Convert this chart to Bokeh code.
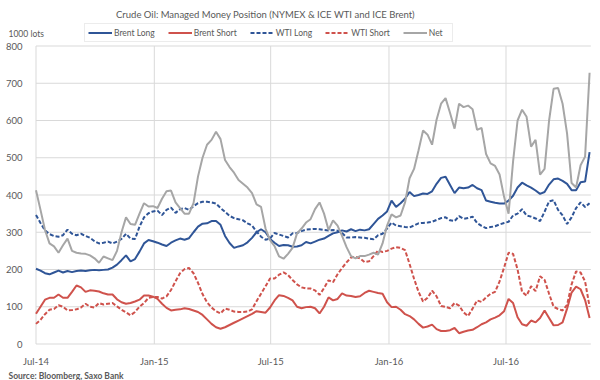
import pandas as pd
from bokeh.plotting import figure
from bokeh.models import Range1d, FixedTicker, DatetimeTickFormatter, Legend, LegendItem, Label
from bokeh.embed import file_html
from bokeh.resources import INLINE

# weekly reporting dates (Tuesdays)
dates = pd.date_range("2014-07-01", periods=124, freq="7D")

brent_long = [202, 197, 190, 187, 192, 197, 192, 196, 193, 196,
              197, 196, 198, 199, 198, 199, 200, 205, 213, 225,
              238, 222, 228, 248, 270, 279, 276, 272, 267, 263,
              272, 278, 283, 280, 284, 300, 315, 323, 324, 330,
              330, 320, 290, 271, 258, 262, 265, 273, 285, 300,
              308, 300, 282, 272, 263, 266, 265, 261, 262, 265,
              274, 270, 275, 280, 283, 290, 297, 300, 305, 302,
              308, 303, 307, 305, 308, 322, 336, 345, 356, 385,
              368, 378, 390, 408, 397, 400, 404, 403, 410, 430,
              446, 449, 427, 405, 420, 418, 420, 427, 418, 413,
              385, 382, 379, 377, 377, 385, 398, 420, 433, 426,
              420, 412, 403, 408, 428, 442, 444, 438, 430, 413,
              413, 434, 436, 515]

brent_short = [81, 100, 119, 124, 124, 133, 124, 124, 140, 157,
               152, 140, 144, 143, 141, 136, 133, 133, 120, 112,
               108, 110, 114, 119, 130, 130, 127, 121, 108, 97,
               90, 92, 93, 96, 94, 90, 86, 78, 66, 54,
               45, 41, 45, 51, 57, 63, 69, 75, 81, 88,
               86, 84, 98, 117, 131, 129, 124, 117, 100, 96,
               99, 100, 96, 82, 100, 125, 117, 121, 136, 130,
               129, 126, 128, 137, 143, 140, 137, 135, 112, 99,
               100, 92, 80, 75, 66, 54, 44, 47, 52, 40,
               35, 35, 37, 43, 29, 33, 36, 38, 45, 53,
               58, 66, 71, 77, 88, 121, 110, 72, 53, 49,
               63, 58, 70, 90, 70, 50, 51, 58, 95, 138,
               154, 147, 118, 70]

wti_long = [346, 325, 305, 295, 290, 288, 292, 307, 296, 292,
            296, 290, 285, 276, 270, 272, 275, 270, 275, 282,
            296, 283, 282, 315, 340, 351, 356, 358, 346, 360,
            366, 352, 362, 365, 360, 370, 378, 382, 382, 380,
            377, 365, 355, 344, 338, 335, 332, 324, 318, 302,
            288, 280, 283, 298, 294, 290, 286, 297, 298, 303,
            307, 308, 309, 308, 306, 305, 306, 304, 298, 286,
            286, 287, 286, 285, 283, 281, 292, 296, 310, 326,
            318, 316, 314, 313, 318, 324, 325, 326, 328, 333,
            338, 340, 332, 330, 343, 336, 338, 342, 325, 317,
            311, 314, 316, 321, 325, 328, 345, 350, 362, 345,
            342, 337, 330, 355, 383, 386, 360, 345, 322, 340,
            365, 380, 368, 378]

wti_short = [54, 65, 80, 92, 94, 104, 100, 90, 91, 93,
             98, 108, 100, 98, 110, 106, 108, 110, 101, 92,
             85, 77, 86, 100, 110, 124, 126, 126, 122, 128,
             145, 168, 190, 201, 204, 190, 164, 134, 112, 98,
             88, 82, 95, 92, 87, 86, 86, 87, 93, 115,
             135, 155, 176, 176, 186, 192, 185, 172, 160, 152,
             149, 149, 144, 132, 150, 171, 166, 187, 204, 219,
             232, 234, 230, 220, 222, 236, 251, 247, 250, 256,
             260, 258, 252, 215, 175, 140, 114, 124, 143, 128,
             102, 100, 96, 110, 103, 85, 75, 95, 117, 113,
             125, 135, 140, 168, 205, 245, 242, 200, 140, 130,
             155, 142, 182, 172, 135, 100, 94, 90, 105, 160,
             195, 192, 168, 100]

net = [413, 360, 306, 270, 262, 245, 265, 283, 250, 245,
       243, 242, 238, 230, 218, 235, 230, 225, 250, 300,
       340, 322, 320, 350, 378, 369, 370, 365, 390, 410,
       412, 380, 365, 350, 350, 378, 450, 500, 535, 548,
       570, 550, 494, 475, 460, 440, 430, 420, 405, 375,
       368, 310, 279, 263, 235, 229, 242, 258, 297, 310,
       326, 335, 362, 380, 350, 306, 332, 318, 290, 260,
       236, 230, 236, 236, 240, 245, 240, 270, 318, 348,
       340, 345, 380, 445, 470, 520, 573, 562, 535, 602,
       645, 660, 620, 578, 645, 636, 640, 630, 575, 580,
       510, 485, 478, 455, 395, 350, 490, 600, 629, 610,
       530, 548, 455, 470, 600, 685, 687, 645, 565, 432,
       420, 480, 503, 728]

series_names = ["Brent Long", "Brent Short", "WTI Long", "WTI Short", "Net"]

x_tick_dates = ["2014-07-01", "2015-01-01", "2015-07-01", "2016-01-01", "2016-07-01"]
x_tick_labels = ["Jul-14", "Jan-15", "Jul-15", "Jan-16", "Jul-16"]
y_ticks = [0, 100, 200, 300, 400, 500, 600, 700, 800]
plot_start, plot_end = "2014-07-01", "2016-11-10"

TITLE = "Crude Oil: Managed Money Position (NYMEX & ICE WTI and ICE Brent)"
UNIT = "1000 lots"
SOURCE = "Source: Bloomberg, Saxo Bank"

FONT = "Lato"
TXT = "#595959"
GRID = "#d9d9d9"
BLUE = "#2F5597"
RED = "#CF524C"
GREY = "#A6A6A6"

W, H = 600, 380
# the data area occupies x 35.5..591, y 45.5..343.5 of the canvas
PX_PER_DAY = 470.0 / 731.0
PX_PER_UNIT = 298.0 / 800.0
x0 = pd.Timestamp(plot_start) - pd.Timedelta(days=35.5 / PX_PER_DAY)
x1 = x0 + pd.Timedelta(days=W / PX_PER_DAY)
y0 = -(H - 343.5) / PX_PER_UNIT
y1 = y0 + H / PX_PER_UNIT

x_tick_ms = [int(pd.Timestamp(d).value // 10**6) for d in x_tick_dates]

p = figure(width=W, height=H, x_axis_type="datetime",
           output_backend="svg", toolbar_location=None,
           x_range=Range1d(x0.to_pydatetime(), x1.to_pydatetime()),
           y_range=Range1d(y0, y1),
           min_border_left=0, min_border_right=0,
           min_border_top=0, min_border_bottom=0)
p.outline_line_color = None
p.background_fill_color = "white"
p.border_fill_color = "white"
p.xgrid.visible = False
p.ygrid.visible = False

p.xaxis.ticker = FixedTicker(ticks=x_tick_ms)
p.xaxis.formatter = DatetimeTickFormatter(days="%b-%y", months="%b-%y", years="%b-%y")
p.xaxis.major_label_overrides = {ms: lab for ms, lab in zip(x_tick_ms, x_tick_labels)}
p.yaxis.ticker = FixedTicker(ticks=y_ticks)
for ax in (p.xaxis, p.yaxis):
    ax.axis_line_color = None
    ax.major_tick_line_color = None
    ax.minor_tick_line_color = None
    ax.major_label_text_font = FONT
    ax.major_label_text_font_size = "9.5px"
    ax.major_label_text_color = TXT
# labels are pulled inwards onto the canvas (the axes sit on the canvas edges)
p.yaxis.major_label_standoff = -28
p.xaxis.major_label_standoff = -31

# grid lines (the Jul-14 and 0 lines double as axis lines)
tick_ts = [pd.Timestamp(d) for d in x_tick_dates]
p.segment(x0=tick_ts, y0=[y_ticks[0]] * len(tick_ts),
          x1=tick_ts, y1=[y_ticks[-1]] * len(tick_ts),
          line_color=GRID, line_width=1)
p.segment(x0=[pd.Timestamp(plot_start)] * len(y_ticks), y0=y_ticks,
          x1=[pd.Timestamp(plot_end)] * len(y_ticks), y1=y_ticks,
          line_color=GRID, line_width=1)

r1 = p.line(dates, brent_long, line_color=BLUE, line_width=2)
r2 = p.line(dates, brent_short, line_color=RED, line_width=2)
r3 = p.line(dates, wti_long, line_color=BLUE, line_width=2, line_dash="4 2")
r4 = p.line(dates, wti_short, line_color=RED, line_width=2, line_dash="4 2")
r5 = p.line(dates, net, line_color=GREY, line_width=2)

legend = Legend(items=[LegendItem(label=n, renderers=[r]) for n, r in
                       zip(series_names, [r1, r2, r3, r4, r5])],
                orientation="horizontal", location=(84, H - 42),
                label_text_font=FONT, label_text_font_size="8.5px",
                label_text_color=TXT, glyph_width=24, glyph_height=11,
                label_height=11, label_standoff=2, spacing=13,
                padding=3, margin=0, border_line_color=GRID,
                background_fill_alpha=1.0)
p.add_layout(legend, "center")

p.add_layout(Label(x=265, y=H - 14, x_units="screen", y_units="screen",
                   text=TITLE, text_font=FONT, text_font_size="9.5px",
                   text_color=TXT, text_align="center", text_baseline="alphabetic"))
p.add_layout(Label(x=8, y=H - 33, x_units="screen", y_units="screen",
                   text=UNIT, text_font=FONT, text_font_size="8.5px",
                   text_color=TXT, text_align="left", text_baseline="alphabetic"))
p.add_layout(Label(x=8, y=H - 375, x_units="screen", y_units="screen",
                   text=SOURCE, text_font=FONT, text_font_size="8.5px",
                   text_font_style="bold", text_color=TXT,
                   text_align="left", text_baseline="alphabetic"))

open("out.html", "w").write(file_html(p, INLINE))
